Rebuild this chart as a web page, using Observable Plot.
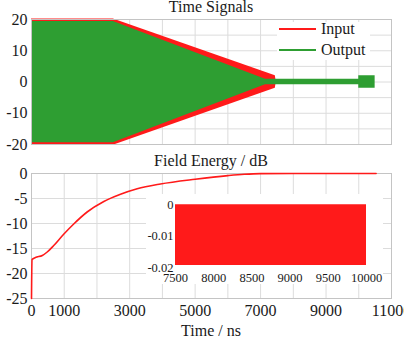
<!DOCTYPE html>
<html>
<head>
<meta charset="utf-8">
<script src="https://cdn.jsdelivr.net/npm/d3@7"></script>
<script src="https://cdn.jsdelivr.net/npm/@observablehq/plot@0.6"></script>
<style>
  html, body { margin: 0; padding: 0; background: #fff; overflow: hidden; }
  #page { position: relative; width: 404px; height: 338px; overflow: hidden;
          font-family: "Liberation Serif", serif; color: #1a1a1a; }
  #page svg, #page svg text { font-family: "Liberation Serif", serif !important; }
  .panel { position: absolute; left: 0; }
  .title { position: absolute; left: 31px; width: 360px; text-align: center;
           font-size: 16px; line-height: 16px; white-space: nowrap; }
  #legend { position: absolute; left: 277px; top: 22px; width: 93px; height: 38px; background: #fff; }
  #legend .swatch { position: absolute; left: 2px; width: 37px; height: 2.6px; }
  #legend .label { position: absolute; left: 44px; font-size: 16px; line-height: 16px; white-space: nowrap; }
  #inset { position: absolute; left: 146px; top: 194px; background: #fff; }
</style>
</head>
<body>
<div id="page">
  <div class="panel" id="top" style="top:0px"></div>
  <div class="title" style="top:-1.5px">Time Signals</div>
  <div id="legend">
    <div class="swatch" style="top:5.7px;background:#ff1a1a"></div>
    <div class="label" style="top:-1px">Input</div>
    <div class="swatch" style="top:26.7px;background:#2e9e32"></div>
    <div class="label" style="top:19.6px">Output</div>
  </div>
  <div class="panel" id="bottom" style="top:148px"></div>
  <div class="title" style="top:153.3px">Field Energy / dB</div>
  <div id="inset"></div>
  <div class="title" style="top:322.6px">Time / ns</div>
</div>
<script>
// ---- data -------------------------------------------------------------
// Time-signal envelopes (amplitude of the carrier, drawn symmetric about 0)
const inputTime  = [0, 2500, 7450, 7480];
const inputAmp   = [20.2, 20.2, 2.0, 0];
const outputTime = [0, 2500, 7150, 10000, 10000, 10500];
const outputAmp  = [19.4, 19.4, 0.9, 0.9, 2.0, 2.0];

// Field energy in dB versus time (ns)
const energyTime = [0, 15, 120, 330, 480, 680, 990, 1290, 1700, 2210, 2720, 3230, 3940, 5000, 6000, 6500, 7000, 8000, 9000, 10000, 10530];
const energyDb   = [-25, -17.2, -16.8, -16.4, -15.7, -14.4, -12.1, -10.1, -7.7, -5.6, -4.15, -3.05, -2.1, -1.15, -0.42, -0.15, -0.02, 0, 0, 0, 0];

// Inset: oscillation band of the field energy in steady state
const insetTime = [7500, 10000];
const insetLow  = [-0.0194, -0.0194];
const insetHigh = [-0.0001, -0.0001];

// Ticks and grid
const timeGrid       = [0, 1000, 2000, 3000, 4000, 5000, 6000, 7000, 8000, 9000, 10000, 11000];
const timeTicks      = [0, 1000, 3000, 5000, 7000, 9000, 11000];
const signalTicks    = [20, 10, 0, -10, -20];
const signalGrid     = [20, 15, 10, 5, 0, -5, -10, -15, -20];
const energyTicks    = [0, -5, -10, -15, -20, -25];
const insetTimeTicks = [7500, 8000, 8500, 9000, 9500, 10000];
const insetDbTicks   = [0, -0.01, -0.02];

// ---- helpers ------------------------------------------------------------
const RED = "#ff1a1a", GREEN = "#2e9e32", GRID = "#dcdcdc", FRAME = "#c4c4c4";
const zip = (ts, vs) => ts.map((t, i) => ({t, v: vs[i]}));
const fmt = d => String(d);
const baseStyle = {fontFamily: "Liberation Serif, serif", fontSize: "16px", color: "#1a1a1a", background: "transparent", overflow: "visible"};

const inputEnv  = zip(inputTime, inputAmp);
const outputEnv = zip(outputTime, outputAmp);
const energy    = zip(energyTime, energyDb);
const insetEnv  = insetTime.map((t, i) => ({t, lo: insetLow[i], hi: insetHigh[i]}));

// ---- time signals -------------------------------------------------------
const topChart = Plot.plot({
  width: 404, height: 148,
  marginTop: 19, marginBottom: 4, marginLeft: 31, marginRight: 13,
  style: baseStyle,
  x: {domain: [0, 11000], axis: null},
  y: {domain: [-20, 20], ticks: signalTicks, tickSize: 0, tickPadding: 4, tickFormat: fmt, label: null},
  marks: [
    Plot.ruleX(timeGrid, {stroke: GRID, strokeWidth: 1}),
    Plot.ruleY(signalGrid, {stroke: GRID, strokeWidth: 1}),
    Plot.areaY(inputEnv, {x: "t", y1: d => -d.v, y2: "v", fill: RED}),
    Plot.areaY(outputEnv, {x: "t", y1: d => -d.v, y2: "v", fill: GREEN}),
    Plot.frame({stroke: FRAME})
  ]
});
document.getElementById("top").appendChild(topChart);

// ---- field energy -------------------------------------------------------
const bottomChart = Plot.plot({
  width: 404, height: 190,
  marginTop: 25, marginBottom: 40, marginLeft: 31, marginRight: 13,
  style: baseStyle,
  x: {domain: [0, 11000], ticks: timeTicks, tickSize: 0, tickPadding: 6, tickFormat: fmt, label: null},
  y: {domain: [-25, 0], ticks: energyTicks, tickSize: 0, tickPadding: 4, tickFormat: fmt, label: null},
  marks: [
    Plot.ruleX(timeGrid, {stroke: GRID, strokeWidth: 1}),
    Plot.ruleY(energyTicks, {stroke: GRID, strokeWidth: 1}),
    Plot.frame({stroke: FRAME}),
    Plot.line(energy, {x: "t", y: "v", stroke: RED, strokeWidth: 1.6, curve: "monotone-x"})
  ]
});
document.getElementById("bottom").appendChild(bottomChart);

// ---- inset: steady-state ripple ----------------------------------------
const insetChart = Plot.plot({
  width: 237, height: 90,
  marginTop: 10, marginBottom: 17, marginLeft: 29, marginRight: 17,
  style: {...baseStyle, fontSize: "12.5px", background: "#fff"},
  x: {domain: [7500, 10000], ticks: insetTimeTicks, tickSize: 0, tickPadding: 5.5, tickFormat: fmt, label: null},
  y: {domain: [-0.02, 0], ticks: insetDbTicks, tickSize: 0, tickPadding: 2, tickFormat: fmt, label: null},
  marks: [
    Plot.areaY(insetEnv, {x: "t", y1: "lo", y2: "hi", fill: RED})
  ]
});
document.getElementById("inset").appendChild(insetChart);
</script>
</body>
</html>
